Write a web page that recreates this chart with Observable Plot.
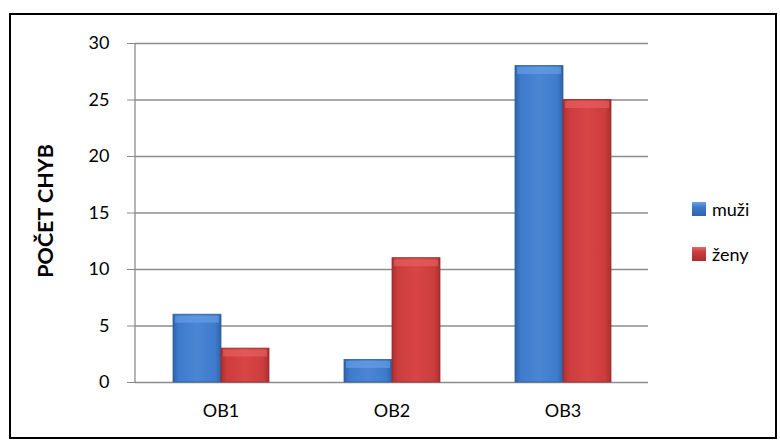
<!DOCTYPE html>
<html>
<head>
<meta charset="utf-8">
<script src="https://cdn.jsdelivr.net/npm/d3@7"></script>
<script src="https://cdn.jsdelivr.net/npm/@observablehq/plot@0.6"></script>
<style>
  html, body { margin: 0; padding: 0; background: #fff; }
  #wrap { position: relative; width: 780px; height: 442px; font-family: Lato, "Open Sans", sans-serif; }
  #frame { position: absolute; left: 9px; top: 13px; width: 768px; height: 426px; border: 2px solid #000; box-sizing: border-box; pointer-events: none; }
  #legend { position: absolute; left: 692px; top: 197px; font-size: 18px; color: #000; }
  .li { display: flex; align-items: center; height: 24px; margin-bottom: 21px; }
  .sw { width: 14px; height: 14px; margin-right: 6px; box-sizing: border-box; }
  #ylab { position: absolute; left: 45px; top: 211px; transform: translate(-50%, -50%) rotate(-90deg); font-weight: bold; font-size: 21.5px; white-space: nowrap; }
</style>
</head>
<body>
<div id="wrap">
  <div id="chart"></div>
  <div id="ylab"></div>
  <div id="legend"></div>
  <div id="frame"></div>
</div>
<script>
const categories = ["OB1", "OB2", "OB3"];
const seriesNames = ["muži", "ženy"];
const muzi = [6, 2, 28];
const zeny = [3, 11, 25];
const yTicks = [0, 5, 10, 15, 20, 25, 30];
const yLabel = "POČET CHYB";

const colors = { "muži": "url(#gBlue)", "ženy": "url(#gRed)" };
const strokes = { "muži": "#2f5f9e", "ženy": "#9e2b2b" };
const highlights = { "muži": "#6aa2ea", "ženy": "#ea6464" };

const data = [];
categories.forEach((c, i) => {
  data.push({ cat: c, series: seriesNames[0], value: muzi[i] });
  data.push({ cat: c, series: seriesNames[1], value: zeny[i] });
});

const chart = Plot.plot({
  width: 780,
  height: 442,
  marginLeft: 135,
  marginRight: 132,
  marginTop: 43,
  marginBottom: 60,
  style: { fontFamily: "Lato, 'Open Sans', sans-serif", fontSize: "18px", color: "#000", background: "transparent" },
  fx: { domain: categories, padding: 0, label: null },
  x: { domain: seriesNames, paddingInner: 0, paddingOuter: 0.745, label: null, axis: null },
  y: { domain: [0, 30], ticks: yTicks, label: null },
  marks: [
    Plot.gridY(yTicks, { stroke: "#8c8c8c", strokeOpacity: 1, strokeWidth: 1.3 }),
    Plot.axisY(yTicks, { tickSize: 8, tickPadding: 18, stroke: "#8c8c8c", fontSize: 18, label: null }),
    Plot.barY(data, {
      fx: "cat",
      x: "series",
      y: "value",
      fill: d => colors[d.series],
      stroke: d => strokes[d.series],
      strokeWidth: 0.8
    }),
    Plot.tickY(data, {
      fx: "cat",
      x: "series",
      y: "value",
      stroke: d => highlights[d.series],
      strokeWidth: 7,
      strokeOpacity: 0.6,
      dy: 4.5,
      inset: 2
    }),
    Plot.axisFx({ anchor: "bottom", tickSize: 0, tickPadding: 22, fontSize: 18, label: null })
  ]
});

// gradients
const ns = "http://www.w3.org/2000/svg";
const defs = document.createElementNS(ns, "defs");
defs.innerHTML = `
  <linearGradient id="gBlue" x1="0" x2="1" y1="0" y2="0">
    <stop offset="0" stop-color="#2f63a8"/>
    <stop offset="0.12" stop-color="#3f7bcc"/>
    <stop offset="0.5" stop-color="#4a86d4"/>
    <stop offset="0.88" stop-color="#3f7bcc"/>
    <stop offset="1" stop-color="#2f63a8"/>
  </linearGradient>
  <linearGradient id="gRed" x1="0" x2="1" y1="0" y2="0">
    <stop offset="0" stop-color="#a82f2f"/>
    <stop offset="0.12" stop-color="#cc3d3d"/>
    <stop offset="0.5" stop-color="#d84545"/>
    <stop offset="0.88" stop-color="#cc3d3d"/>
    <stop offset="1" stop-color="#a82f2f"/>
  </linearGradient>`;
chart.insertBefore(defs, chart.firstChild);
document.getElementById("chart").appendChild(chart);

// y axis vertical line placed with the y scale
const y = chart.scale("y");
const line = document.createElementNS(ns, "line");
line.setAttribute("x1", 135); line.setAttribute("x2", 135);
line.setAttribute("y1", y.apply(30)); line.setAttribute("y2", y.apply(0));
line.setAttribute("stroke", "#8c8c8c"); line.setAttribute("stroke-width", 1.3);
chart.appendChild(line);

document.getElementById("ylab").textContent = yLabel;

const legend = document.getElementById("legend");
const swFill = {
  "muži": "linear-gradient(180deg, #6fa3e6 0%, #3f7bcc 35%, #2f63a8 100%)",
  "ženy": "linear-gradient(180deg, #e86a6a 0%, #cc3d3d 35%, #a82f2f 100%)"
};
seriesNames.forEach(s => {
  const row = document.createElement("div");
  row.className = "li";
  const sw = document.createElement("div");
  sw.className = "sw";
  sw.style.background = swFill[s];
  row.appendChild(sw);
  const t = document.createElement("span");
  t.textContent = s;
  row.appendChild(t);
  legend.appendChild(row);
});
</script>
</body>
</html>
